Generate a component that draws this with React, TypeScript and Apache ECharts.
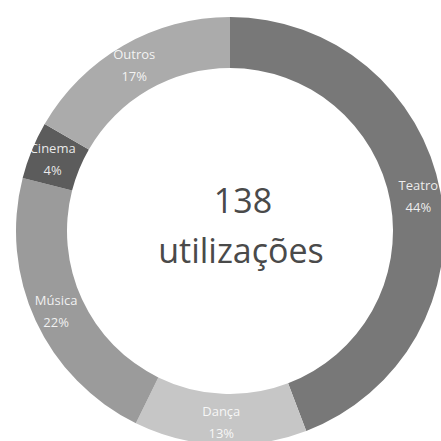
import React, { useEffect, useRef } from "react";
import * as echarts from "echarts";

const categories = ["Teatro", "Dança", "Música", "Cinema", "Outros"];
const values = [61, 18, 30, 6, 23];
const percentLabels = ["44%", "13%", "22%", "4%", "17%"];
const sliceColors = ["#787878", "#c6c6c6", "#9b9b9b", "#5c5c5c", "#ababab"];
const totalLabel = "138";
const unitLabel = "utilizações";

export default function App() {
  const ref = useRef<HTMLDivElement>(null);
  useEffect(() => {
    if (!ref.current) return;
    const chart = echarts.init(ref.current, undefined, { renderer: "svg" });
    chart.setOption({
      animation: false,
      backgroundColor: "#ffffff",
      series: [
        {
          type: "pie",
          center: [230, 231],
          radius: [163, 214],
          startAngle: 90,
          clockwise: true,
          avoidLabelOverlap: false,
          label: {
            show: true,
            position: "inside",
            color: "rgba(255,255,255,0.88)",
            fontFamily: "Open Sans",
            fontSize: 13,
            lineHeight: 22,
            formatter: (p: any) => `${p.name}\n${percentLabels[p.dataIndex]}`,
          },
          labelLine: { show: false },
          itemStyle: { borderWidth: 0 },
          emphasis: { disabled: true },
          data: categories.map((c, i) => ({
            name: c,
            value: values[i],
            itemStyle: { color: sliceColors[i] },
          })),
        },
      ],
      graphic: [
        {
          type: "text",
          x: 243,
          y: 200,
          style: {
            text: totalLabel,
            fill: "#4a4a4a",
            font: "34px 'Open Sans'",
            textAlign: "center",
            textVerticalAlign: "middle",
          },
        },
        {
          type: "text",
          x: 241,
          y: 250,
          style: {
            text: unitLabel,
            fill: "#4a4a4a",
            font: "34px 'Open Sans'",
            textAlign: "center",
            textVerticalAlign: "middle",
          },
        },
      ],
    });
    return () => chart.dispose();
  }, []);
  return (
    <div
      ref={ref}
      style={{ position: "absolute", left: 0, top: 0, width: 441, height: 441 }}
    />
  );
}
